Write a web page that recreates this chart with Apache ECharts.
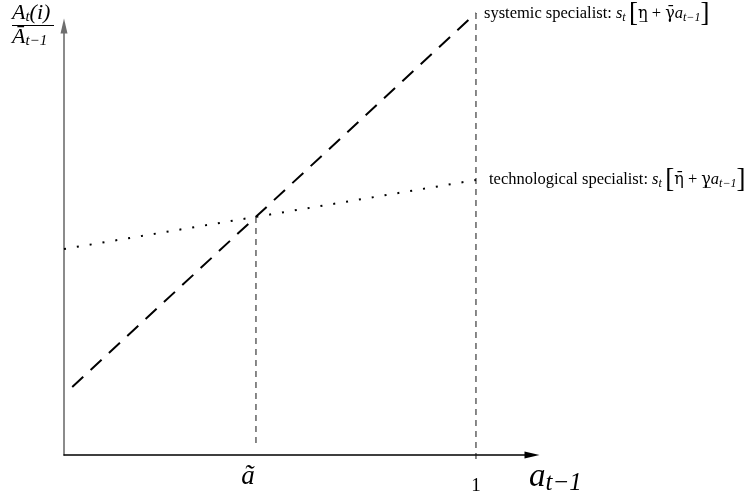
<!DOCTYPE html>
<html><head><meta charset="utf-8">
<script src="https://cdn.jsdelivr.net/npm/echarts@6/dist/echarts.min.js"></script>
<style>html,body{margin:0;padding:0;background:#fff}#c{width:752px;height:497px}</style>
</head><body><div id="c"></div>
<script>
// ---- data ----
const aTilde = 0.466;
const xTickValues = [aTilde, 1];
const xTickLabels = ['ã', '1'];
const systemicX = [0.02, 1];
const systemicY = [0.68, 4.42];
const technoX = [0, 1];
const technoY = [2.06, 2.75];
const guideATildeY = [2.38, 0.08];
const guideOneY = [4.42, -0.04];
const xMax = 1.136;
const yMax = 4.29;

const SERIF = '"Liberation Serif", "DejaVu Serif", serif';
const mathRich = {
  txt: {fontSize: 16.5, fontFamily: SERIF, color: '#000'},
  it: {fontSize: 16.5, fontFamily: SERIF, fontStyle: 'italic', color: '#000'},
  sub: {fontSize: 12, fontFamily: SERIF, fontStyle: 'italic', color: '#000', padding: [8, 0, 0, 0]},
  br: {fontSize: 27, fontFamily: SERIF, color: '#000'},
  gr: {fontSize: 16, fontFamily: '"DejaVu Serif", serif', color: '#000'}
};

const chart = echarts.init(document.getElementById('c'), null, {renderer: 'canvas'});
const zip = (xs, ys) => xs.map((x, i) => [x, ys[i]]);

chart.setOption({
  animation: false,
  backgroundColor: '#fff',
  grid: {left: 64, top: 26, right: 220, bottom: 42, containLabel: false},
  xAxis: {
    type: 'value', min: 0, max: xMax,
    splitLine: {show: false},
    axisTick: {show: false},
    axisLine: {show: true, onZero: false, symbol: ['none', 'triangle'], symbolSize: [7, 15],
      lineStyle: {color: '#000', width: 1.5}},
    axisLabel: {
      customValues: xTickValues,
      margin: 8,
      formatter: function (v) {
        const i = xTickValues.indexOf(v);
        return i === 0 ? '{a|' + xTickLabels[0] + '}' : '{one|' + xTickLabels[1] + '}';
      },
      rich: {
        a: {fontSize: 27, fontFamily: SERIF, fontStyle: 'italic', color: '#000', padding: [0, 16, 0, 0]},
        one: {fontSize: 19, fontFamily: SERIF, color: '#000', padding: [14, 0, 0, 0]}
      }
    }
  },
  yAxis: {
    type: 'value', min: 0, max: yMax,
    splitLine: {show: false},
    axisTick: {show: false},
    axisLabel: {show: false},
    axisLine: {show: true, onZero: false, symbol: ['none', 'triangle'], symbolSize: [7, 15],
      lineStyle: {color: '#6e6e6e', width: 1.6}}
  },
  series: [
    {
      type: 'line', clip: false, symbol: 'none', silent: true,
      data: zip(systemicX, systemicY),
      lineStyle: {color: '#000', width: 2, type: [15, 10]},
      endLabel: {
        show: true, distance: 8, offset: [0, 1],
        formatter: '{txt|systemic specialist: }{it|s}{sub|t} {br|[}{gr|η\u0332}{txt| + }{gr|γ\u0304}{it|a}{sub|t−1}{br|]}',
        rich: mathRich
      }
    },
    {
      type: 'line', clip: false, symbol: 'none', silent: true,
      data: zip(technoX, technoY),
      lineStyle: {color: '#000', width: 2, type: [2, 11], cap: 'butt'},
      endLabel: {
        show: true, distance: 13,
        formatter: '{txt|technological specialist: }{it|s}{sub|t} {br|[}{gr|η\u0304}{txt| + }{gr|γ\u0332}{it|a}{sub|t−1}{br|]}',
        rich: mathRich
      }
    },
    {
      type: 'line', clip: false, symbol: 'none', silent: true,
      data: zip([aTilde, aTilde], guideATildeY),
      lineStyle: {color: '#111', width: 1, type: [6, 5]}
    },
    {
      type: 'line', clip: false, symbol: 'none', silent: true,
      data: zip([1, 1], guideOneY),
      lineStyle: {color: '#111', width: 1, type: [6, 5]}
    }
  ],
  graphic: [
    {type: 'text', left: 12, top: 2, style: {
      text: '{A|A}{s|t}{p|(i)}',
      rich: {
        A: {fontSize: 22, fontFamily: SERIF, fontStyle: 'italic', fill: '#000'},
        s: {fontSize: 15, fontFamily: SERIF, fontStyle: 'italic', fill: '#000', padding: [9, 0, 0, 0]},
        p: {fontSize: 22, fontFamily: SERIF, fontStyle: 'italic', fill: '#000'}
      }}},
    {type: 'line', shape: {x1: 12, y1: 25.5, x2: 54, y2: 25.5}, style: {stroke: '#000', lineWidth: 1}},
    {type: 'text', left: 12, top: 26, style: {
      text: '{A|Ā}{s|t−1}',
      rich: {
        A: {fontSize: 22, fontFamily: SERIF, fontStyle: 'italic', fill: '#000'},
        s: {fontSize: 15, fontFamily: SERIF, fontStyle: 'italic', fill: '#000', padding: [9, 0, 0, 0]}
      }}},
    {type: 'text', left: 529, top: 461, style: {
      text: '{A|a}{s|t−1}',
      rich: {
        A: {fontSize: 33, fontFamily: SERIF, fontStyle: 'italic', fill: '#000'},
        s: {fontSize: 25, fontFamily: SERIF, fontStyle: 'italic', fill: '#000', padding: [12, 0, 0, 0]}
      }}}
  ]
});
</script></body></html>
